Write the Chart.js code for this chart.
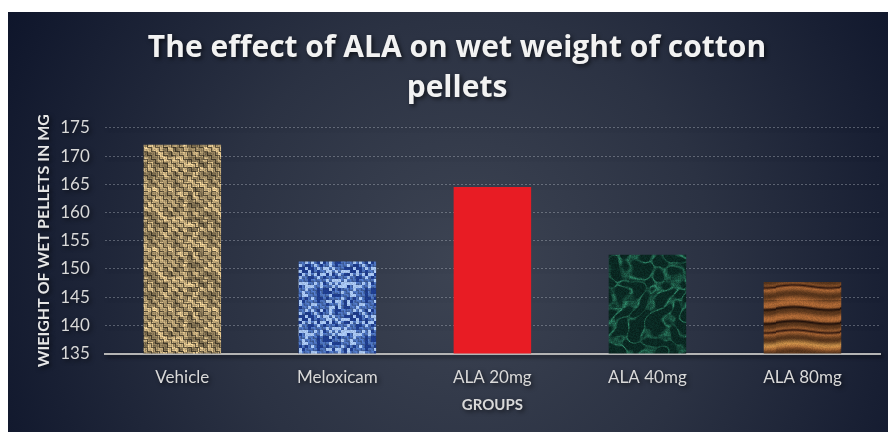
<!DOCTYPE html>
<html>
<head>
<meta charset="utf-8">
<script src="https://cdn.jsdelivr.net/npm/chart.js@4"></script>
<style>
  html, body { margin: 0; padding: 0; background: #ffffff; }
  #wrap { position: absolute; left: 8px; top: 12px; width: 880px; height: 420px; }
</style>
</head>
<body>
<div id="wrap"><canvas id="bar_chart" width="880" height="420"></canvas></div>
<script>

///////////   DATA  /////////////////

const groups = ["Vehicle", "Meloxicam", "ALA 20mg", "ALA 40mg", "ALA 80mg"];
const wetWeight = [172, 151.3, 164.5, 152.5, 147.7];
const yTicks = [135, 140, 145, 150, 155, 160, 165, 170, 175];

///////////   TEXTURES  /////////////////

const ctxMain = document.querySelector("#bar_chart").getContext("2d");

function hash(x, y) {
  let n = Math.sin(x * 12.9898 + y * 78.233) * 43758.5453;
  return n - Math.floor(n);
}

function clamp(v) { return Math.max(0, Math.min(255, Math.round(v))); }

function makePattern(w, h, paint) {
  const c = document.createElement("canvas");
  c.width = w; c.height = h;
  const cx = c.getContext("2d");
  const img = cx.createImageData(w, h);
  for (let y = 0; y < h; y += 1) {
    for (let x = 0; x < w; x += 1) {
      const col = paint(x, y);
      const i = (y * w + x) * 4;
      img.data[i] = clamp(col[0]);
      img.data[i + 1] = clamp(col[1]);
      img.data[i + 2] = clamp(col[2]);
      img.data[i + 3] = 255;
    }
  }
  cx.putImageData(img, 0, 0);
  return ctxMain.createPattern(c, "repeat");
}

// burlap weave
const burlap = makePattern(60, 60, (x, y) => {
  const bx = Math.floor(x / 4), by = Math.floor(y / 4);
  const t = ((bx + by) % 2 === 0) ? y % 4 : x % 4;
  const weave = [1.0, 0.85, 0.95, 0.45][t];
  const mottle = 0.6 + 0.5 * hash(Math.floor(x / 5), Math.floor(y / 5));
  const n = 0.85 + 0.25 * hash(x, y);
  const b = weave * mottle * n;
  return [222 * b, 194 * b, 140 * b];
});

// blue linen
const blueCloth = makePattern(48, 48, (x, y) => {
  const c = hash(Math.floor(x / 3), Math.floor(y / 3));
  const t = ((Math.floor(x / 3) + Math.floor(y / 3)) % 2 === 0) ? y % 3 : x % 3;
  const weave = [1.0, 0.9, 0.75][t];
  const n = 0.92 + 0.16 * hash(x, y);
  if (c > 0.7) return [165 * n, 195 * n, 238 * n];
  if (c < 0.2) return [30 * n, 60 * n, 140 * n];
  return [80 * weave * n, 120 * weave * n, 198 * weave * n];
});

// green marble
const marble = makePattern(120, 120, (x, y) => {
  const a = Math.sin(x * 0.17 + Math.sin(y * 0.09 + x * 0.03) * 3.4 + Math.sin(y * 0.31) * 0.8);
  const b = Math.sin(y * 0.14 + Math.cos(x * 0.12) * 2.6 + Math.sin(x * 0.27 + y * 0.05));
  const v = Math.abs(a + b * 0.8);
  const vein = Math.max(0, 1 - v * 1.8) * (0.3 + 0.6 * hash(Math.floor(x / 7), Math.floor(y / 7)));
  const n = 0.8 + 0.4 * hash(x, y);
  return [(10 + 40 * vein) * n, (40 + 100 * vein) * n, (34 + 74 * vein) * n];
});

// wood grain
const wood = makePattern(64, 72, (x, y) => {
  const yy = y + Math.sin(x * 0.09) * 1.5;
  const base = 0.75 + 0.25 * Math.sin(yy * 0.45);
  let dark = 0;
  [8, 22, 31, 58].forEach((d) => { dark = Math.max(dark, 1 - Math.abs(yy - d) / 2.2); });
  const light = Math.max(0, 1 - Math.abs(yy - 44) / 5);
  const n = 0.92 + 0.16 * hash(x, y);
  const r = (170 * base + 30 * light) * (1 - 0.7 * dark) * n;
  const g = (102 * base + 40 * light) * (1 - 0.75 * dark) * n;
  const bl = (52 * base + 20 * light) * (1 - 0.7 * dark) * n;
  return [r, g, bl];
});

const barFills = [burlap, blueCloth, "#e81c24", marble, wood];

///////////   BACKGROUND  /////////////////

const backgroundPlugin = {
  id: "background",
  beforeDraw(chart) {
    const { ctx, width, height } = chart;
    const g = ctx.createRadialGradient(width * 0.52, height * 0.6, 0, width * 0.52, height * 0.6, width * 0.62);
    g.addColorStop(0, "#3d4453");
    g.addColorStop(0.45, "#2b3243");
    g.addColorStop(1, "#0c1329");
    ctx.save();
    ctx.fillStyle = g;
    ctx.fillRect(0, 0, width, height);
    ctx.restore();
    // soft shadow under the title text
    ctx.shadowColor = "rgba(0, 0, 0, 0.6)";
    ctx.shadowBlur = 4;
    ctx.shadowOffsetX = 2;
    ctx.shadowOffsetY = 2;
  },
  beforeDatasetsDraw(chart) {
    chart.ctx.shadowColor = "rgba(0, 0, 0, 0)";
    chart.ctx.shadowBlur = 0;
    chart.ctx.shadowOffsetX = 0;
    chart.ctx.shadowOffsetY = 0;
  }
};

////////////// BAR CHART /////////////

new Chart(ctxMain, {
  type: "bar",
  data: {
    labels: groups,
    datasets: [{
      data: wetWeight,
      backgroundColor: barFills,
      borderWidth: 0,
      categoryPercentage: 1,
      barPercentage: 0.5
    }]
  },
  plugins: [backgroundPlugin],
  options: {
    responsive: false,
    animation: false,
    devicePixelRatio: 1,
    layout: { padding: { top: 4, right: 8, bottom: 18, left: 26 } },
    plugins: {
      legend: { display: false },
      tooltip: { enabled: false },
      title: {
        display: true,
        text: ["The effect of ALA on wet weight of cotton", "pellets"],
        color: "#f2f2f2",
        font: { family: "Open Sans", size: 30, weight: "bold", lineHeight: 1.33 },
        padding: { top: 13, bottom: 19 }
      }
    },
    scales: {
      x: {
        grid: { display: false },
        border: { display: true, color: "#b4b4b4", width: 2 },
        ticks: {
          color: "#d9d9d9",
          font: { family: "Lato", size: 17 },
          padding: 6
        },
        title: {
          display: true,
          text: "GROUPS",
          color: "#d9d9d9",
          font: { family: "Lato", size: 15, weight: "bold" },
          padding: { top: 2, bottom: 0 }
        }
      },
      y: {
        min: yTicks[0],
        max: yTicks[yTicks.length - 1],
        afterBuildTicks: (axis) => { axis.ticks = yTicks.map((v) => ({ value: v })); },
        grid: {
          color: "rgba(200, 205, 215, 0.35)",
          lineWidth: 1,
          drawTicks: false
        },
        border: { display: false, dash: [2, 2] },
        ticks: {
          color: "#d9d9d9",
          font: { family: "Lato", size: 17 },
          padding: 15
        },
        title: {
          display: true,
          text: "WIEIGHT OF WET PELLETS IN MG",
          color: "#e6e6e6",
          font: { family: "Lato", size: 16, weight: "bold" },
          padding: { top: 0, bottom: -8 }
        }
      }
    }
  }
});

</script>
</body>
</html>
